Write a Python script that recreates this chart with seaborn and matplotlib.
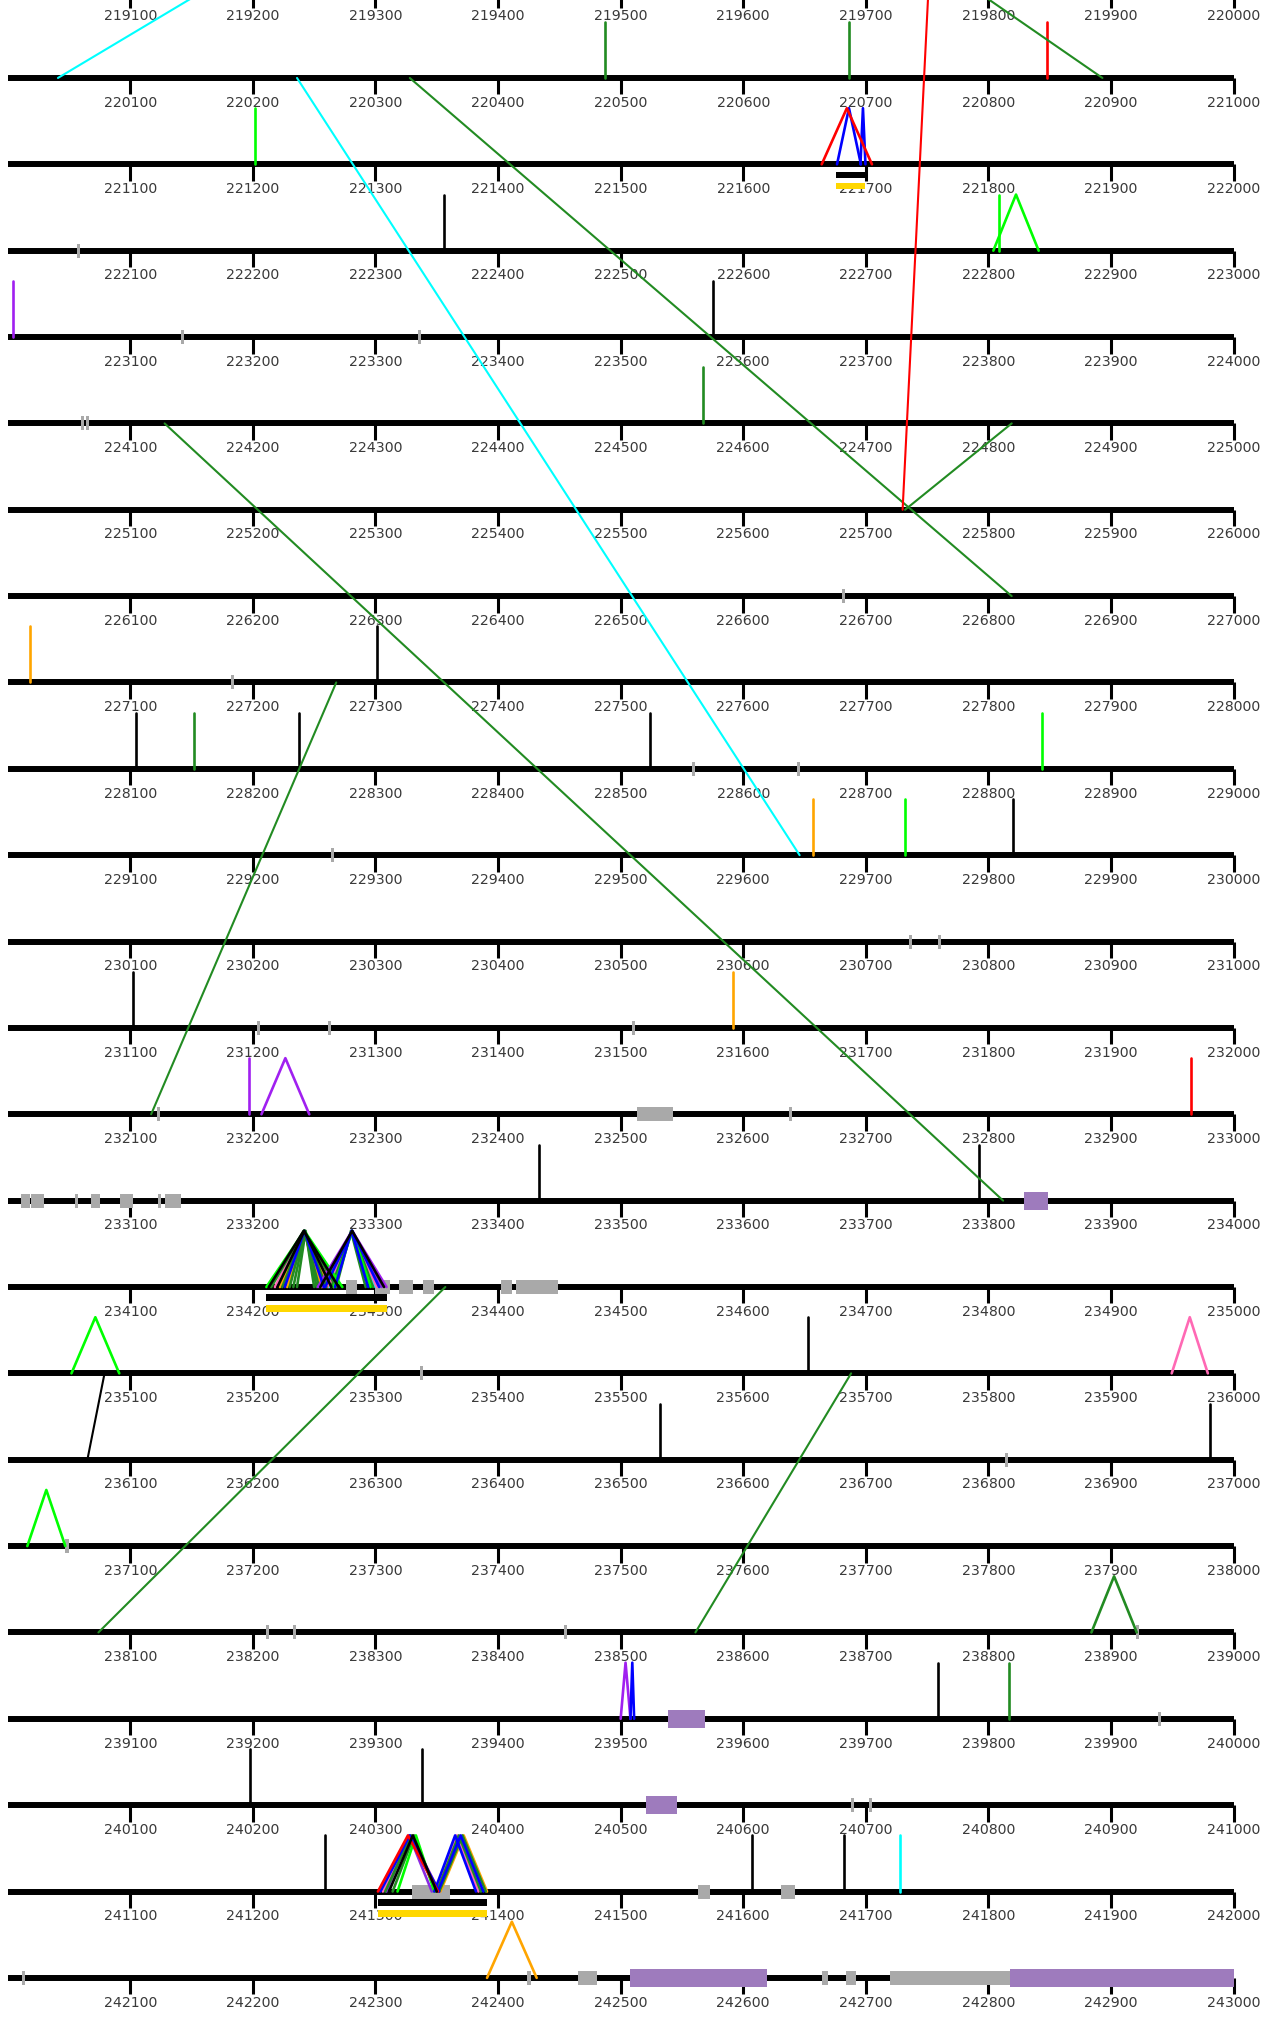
import numpy as np
import pandas as pd
import matplotlib
matplotlib.use("Agg")
import matplotlib.pyplot as plt
import seaborn as sns

sns.set_theme(style="white")
plt.rcParams['font.family'] = ['DejaVu Sans']

# ---------------- data ----------------
ORIGIN = 219000
ROW_SPAN = 1000
N_ROWS = 24
tick_steps = list(range(100, 1001, 100))

# single read/feature markers (genomic position, colour)
vertical_pos = [220487, 220686, 220848, 221202, 222356, 222809, 223004, 223575,
                224567, 227018, 227301, 228105, 228152, 228238, 228524, 228844,
                229657, 229732, 229820, 231102, 231592, 232197, 232965, 233433,
                233792, 235653, 236532, 236981, 239759, 239817, 240198, 240338,
                241259, 241607, 241682, 241728]
vertical_color = ["forestgreen", "forestgreen", "red", "lime", "black", "lime", "purple", "black",
                  "forestgreen", "orange", "black", "black", "forestgreen", "black", "black", "lime",
                  "orange", "lime", "black", "black", "orange", "purple", "red", "black",
                  "black", "black", "black", "black", "black", "forestgreen", "black", "black",
                  "black", "black", "black", "cyan"]

# arcs (start, end, colour) drawn as triangles
arc_start = [221664, 221676.5, 221695.6, 222804, 232207,
             234211, 234213, 234215, 234218, 234220, 234222, 234224, 234226, 234228, 234230, 234233, 234236,
             234253, 234255, 234257, 234259, 234261, 234262, 234264, 234266, 234267, 234268,
             235052, 235949.5, 237016, 238884, 239500, 239508,
             241302, 241304, 241306, 241308, 241311, 241314, 241318, 241309,
             241348, 241349, 241350, 241351, 241352, 241353,
             242391]
arc_end = [221705, 221696, 221699.7, 222841, 232246,
           234273, 234270, 234268, 234266, 234264, 234262, 234260, 234258, 234256, 234254, 234252, 234250,
           234309, 234307, 234305, 234303, 234301, 234300, 234298, 234296, 234294, 234292,
           235091, 235979, 237047, 238921, 239508, 239511,
           241351, 241352, 241352, 241350, 241350, 241349, 241348, 241346,
           241382, 241384, 241386, 241388, 241390, 241391,
           242431.5]
arc_color = ["red", "blue", "blue", "lime", "purple",
             "lime", "black", "forestgreen", "hotpink", "black", "orange", "forestgreen", "blue",
             "orange", "forestgreen", "forestgreen", "forestgreen",
             "purple", "black", "blueviolet", "blue", "hotpink", "cyan", "forestgreen", "lime",
             "blue", "forestgreen",
             "lime", "hotpink", "lime", "forestgreen", "purple", "blue",
             "red", "blue", "hotpink", "forestgreen", "black", "forestgreen", "lime", "blueviolet",
             "blue", "hotpink", "forestgreen", "blue", "forestgreen", "orange",
             "orange"]

# long-range links (from position, to position, colour)
link_from = [219159, 219791, 219751, 220236, 220328, 224128, 224819, 227268, 234357, 235079, 235688]
link_to = [220041, 220893, 225730, 229646, 226819, 233812, 225732, 232117, 238074, 236065, 238561]
link_color = ["cyan", "forestgreen", "red", "cyan", "forestgreen", "forestgreen", "forestgreen",
              "forestgreen", "forestgreen", "black", "forestgreen"]

# grey annotation blocks (start, end)
gray_start = [222056.5, 223141.5, 223334.5, 224059.5, 224063.5, 226680.5, 227182.5, 228558.5,
              228643.5, 229263.5, 230735.5, 230758.5, 231203.5, 231261.5, 231509.5, 232121.5,
              232513, 232637.5, 233011, 233019, 233054.5, 233068, 233092, 233122.5, 233128,
              234276, 234300, 234319, 234339, 234402, 234415, 235336.5, 236813.5, 237046.5,
              238210.5, 238232.5, 238453.5, 238920.5, 239938.5, 240687.5, 240702.5,
              241330, 241563, 241631, 242011.5, 242423.5, 242465, 242664, 242684, 242720]
gray_end = [222059, 223144, 223337, 224062, 224066, 226683, 227185, 228561,
            228646, 229266, 230738, 230761, 231206, 231264, 231512, 232124,
            232543, 232640, 233018, 233030, 233057, 233075, 233102, 233125, 233141,
            234285, 234312, 234331, 234348, 234411, 234449, 235339, 236816, 237050,
            238213, 238235, 238456, 238923, 239941, 240690, 240705,
            241361, 241573, 241642, 242014, 242427, 242481, 242669, 242692, 242818]

# purple annotation blocks
purple_start = [233829, 239539, 240521, 242508, 242818]
purple_end = [233849, 239569, 240546, 242619, 243000]

# black / yellow coverage bars beneath clusters
bar_start = [221676, 234211, 241302]
bar_end = [221699, 234309, 241391]

# ---------------- geometry helpers ----------------
PX_X0 = 7.7
PX_PER_UNIT = 1.2259
PX_ROW0 = -8.4
PX_PER_ROW = 86.36
W, H = 1274, 2017
MARK_H = 0.65


def locate(pos):
    r = int(np.floor((pos - ORIGIN) / ROW_SPAN))
    return r, pos - ORIGIN - r * ROW_SPAN


def span(start, end):
    r = int(np.floor((start - ORIGIN) / ROW_SPAN))
    base = ORIGIN + r * ROW_SPAN
    return r, start - base, end - base


fig = plt.figure(figsize=(W / 100, H / 100), dpi=100)
ax = fig.add_axes([0, 0, 1, 1])
ax.set_axis_off()

# baselines, ticks, labels
rows = np.arange(N_ROWS)
ax.hlines(rows, 0, ROW_SPAN, color="black", lw=4.3, zorder=1, capstyle="butt")
tick_len = 16.5 / PX_PER_ROW
lab_off = 24.7 / PX_PER_ROW
for r in rows:
    ax.vlines(tick_steps, r, r + tick_len, color="black", lw=2.2, zorder=1)
    for t in tick_steps:
        ax.text(t, r + lab_off, str(ORIGIN + r * ROW_SPAN + t), ha="center", va="center",
                fontsize=10.2, color="#3a3a3a", zorder=2)

# grey blocks
gh = 7 / PX_PER_ROW
for s, e in zip(gray_start, gray_end):
    r, a, b = span(s, e)
    ax.bar(a, 2 * gh, width=b - a, bottom=r - gh, align="edge", color="#A9A9A9", lw=0, zorder=3)

ph = 9 / PX_PER_ROW
for s, e in zip(purple_start, purple_end):
    r, a, b = span(s, e)
    ax.bar(a, 2 * ph, width=b - a, bottom=r - ph, align="edge", color="#9E7BBD", lw=0, zorder=3)

for s, e in zip(bar_start, bar_end):
    r, a, b = span(s, e)
    ax.bar(a, 6.7 / PX_PER_ROW, width=b - a, bottom=r + 7.3 / PX_PER_ROW, align="edge",
           color="black", lw=0, zorder=3)
    ax.bar(a, 6.7 / PX_PER_ROW, width=b - a, bottom=r + 18.3 / PX_PER_ROW, align="edge",
           color="#FFD700", lw=0, zorder=3)

# line marks built as tables, drawn with seaborn
recs = []
seg = 0
for p, c in zip(vertical_pos, vertical_color):
    r, o = locate(p)
    recs += [("v", seg, 0, o, r, c), ("v", seg, 1, o, r - MARK_H, c)]
    seg += 1
for s, e, c in zip(arc_start, arc_end, arc_color):
    r, a, b = span(s, e)
    m = (a + b) / 2
    recs += [("a", seg, 0, a, r, c), ("a", seg, 1, m, r - MARK_H, c), ("a", seg, 2, b, r, c)]
    seg += 1
for f, t, c in zip(link_from, link_to, link_color):
    r1, o1 = locate(f)
    r2, o2 = locate(t)
    recs += [("l", seg, 0, o1, r1, c), ("l", seg, 1, o2, r2, c)]
    seg += 1
marks = pd.DataFrame(recs, columns=["kind", "seg", "order", "x", "y", "color"])

named = {"forestgreen": "#228B22", "lime": "#00FF00", "red": "#FF0000", "blue": "#0000FF",
         "cyan": "#00FFFF", "orange": "#FFA500", "hotpink": "#FF69B4", "purple": "#A020F0",
         "blueviolet": "#8A2BE2", "black": "#000000"}
draw_order = ["orange", "cyan", "hotpink", "blueviolet", "forestgreen", "lime",
              "purple", "blue", "red", "black"]

for kind, lw, z in [("v", 1.9, 4), ("a", 1.9, 5), ("l", 1.5, 6)]:
    d = marks[marks.kind == kind]
    order = [c for c in draw_order if c in set(d.color)]
    sns.lineplot(data=d, x="x", y="y", units="seg", hue="color", hue_order=order,
                 palette=named, estimator=None, sort=False, legend=False, lw=lw, ax=ax, zorder=z)

ax.set_xlim(-PX_X0 / PX_PER_UNIT, (W - PX_X0) / PX_PER_UNIT)
ax.set_ylim((H - PX_ROW0) / PX_PER_ROW, -PX_ROW0 / PX_PER_ROW)
ax.set_axis_off()

fig.savefig("out.png", dpi=100)
